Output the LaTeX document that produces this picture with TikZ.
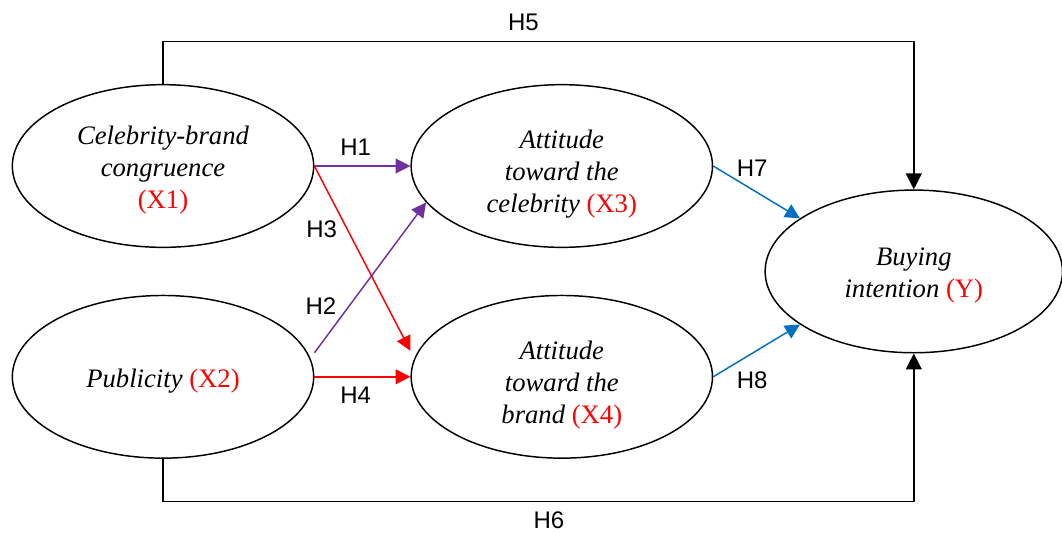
\documentclass[tikz,border=0pt]{standalone}
\usepackage{fontspec}
\setmainfont{Liberation Serif}
\setsansfont{Liberation Sans}
\usetikzlibrary{arrows.meta,calc,positioning,shapes.geometric}
\definecolor{HPurple}{HTML}{7030A0}
\definecolor{HRed}{HTML}{FF0000}
\definecolor{HBlue}{HTML}{0070C0}
\tikzset{
  construct/.style={
    ellipse, draw=black, line width=1.1pt, fill=white,
    minimum width=226pt, minimum height=122pt, inner sep=0pt,
    align=center, font=\fontsize{20}{24}\selectfont\itshape
  },
  hyp/.style={font=\fontsize{18}{22}\selectfont\sffamily, inner sep=2pt},
  purpleflow/.style={-{Triangle[length=11pt,width=11pt]}, line width=1.1pt, draw=HPurple},
  redflow/.style={-{Triangle[length=11pt,width=11pt]}, line width=1.1pt, draw=HRed},
  blueflow/.style={-{Triangle[length=11pt,width=11pt]}, line width=1.1pt, draw=HBlue},
  directflow/.style={-{Triangle[length=12pt,width=12pt]}, line width=1.1pt, draw=black}
}
\newcommand{\varcode}[1]{\textcolor{HRed}{\upshape #1}}
\newcommand{\topgap}[1]{\rule{0pt}{#1}}

\begin{document}
\begin{tikzpicture}[x=0.75pt,y=-0.75pt]
    \useasboundingbox (0,0) rectangle (1062,533);
    \node[construct] (x1) at (163,166) {\topgap{20pt}Celebrity-brand\\congruence\\\varcode{(X1)}};
    \node[construct,below=35pt of x1] (x2) {\topgap{20pt}Publicity \varcode{(X2)}};
    \node[construct,right=72pt of x1] (x3) {\topgap{26pt}Attitude\\toward the\\celebrity \varcode{(X3)}};
    \node[construct,right=72pt of x2] (x4) {\topgap{26pt}Attitude\\toward the\\brand \varcode{(X4)}};
    \node[construct,minimum width=223pt] (buy) at ($(x3)!0.5!(x4)+(352,0)$) {\topgap{20pt}Buying\\intention \varcode{(Y)}};
    % paths to the mediators
    \draw[purpleflow] (x1.east) -- (x3.west) node[hyp,pos=0.43,above=5pt] {H1};
    \draw[purpleflow] ([yshift=18pt]x2.east) -- (x3.195) node[hyp,pos=0.31,left=7pt] {H2};
    \draw[redflow] (x1.east) -- ([yshift=19.5pt]x4.west) node[hyp,pos=0.34,left=5pt] {H3};
    \draw[redflow] (x2.east) -- (x4.west) node[hyp,pos=0.43,below=5pt] {H4};
    \draw[blueflow] (x3.east) -- (buy.155) node[hyp,pos=0.45,above=7.5pt] {H7};
    \draw[blueflow] (x4.east) -- (buy.205) node[hyp,pos=0.45,below=11.5pt] {H8};
    % direct paths
    \draw[directflow] (x1.north) -- ([yshift=32pt]x1.north) -| (buy.north) node[hyp,pos=0.24,above=5pt] {H5};
    \draw[directflow] (x2.south) -- ([yshift=-32pt]x2.south) -| (buy.south) node[hyp,pos=0.257,below=5pt] {H6};
  \end{tikzpicture}
\end{document}
